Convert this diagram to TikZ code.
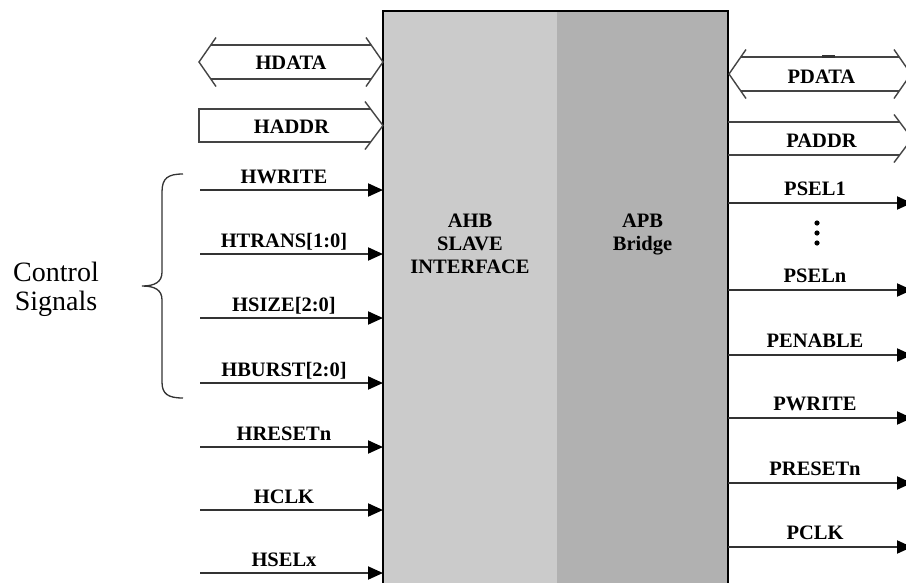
\documentclass[tikz,border=0pt]{standalone}
\usepackage{fontspec}
\setmainfont{Liberation Serif}
\usetikzlibrary{arrows.meta}

\definecolor{ahbgray}{HTML}{CBCBCB}
\definecolor{apbgray}{HTML}{B1B1B1}
\definecolor{wire}{HTML}{333333}
\definecolor{buswire}{HTML}{444444}

\tikzset{
  blk/.style={inner sep=0pt, outer sep=0pt, draw=none},
  sig/.style={draw=wire, line width=2pt,
    -{Triangle[length=15pt, width=13pt, color=black]}},
  bus/.style={draw=buswire, line width=1.4pt, line join=miter},
  lab/.style={font=\bfseries\fontsize{20.5}{23}\selectfont, inner sep=0pt, anchor=base},
  boxtxt/.style={font=\bfseries\fontsize{20.5}{23}\selectfont, inner sep=0pt,
    anchor=north, align=center},
  brace/.style={draw=wire, line width=1.3pt},
}

\begin{document}
\begin{tikzpicture}[x=1pt, y=-1pt]
\path[use as bounding box, clip] (0,0) rectangle (906,582);
\fill[white] (0,0) rectangle (906,582);

% bridge block: AHB slave interface and APB bridge halves
\node[blk, fill=ahbgray, minimum width=174pt, minimum height=590pt] (ahb) at (470,306) {};
\node[blk, fill=apbgray, minimum width=171pt, minimum height=590pt] (apb) at (642.5,306) {};
\draw[line width=2pt, line join=miter]
  (ahb.south west) -- (ahb.north west) -- (apb.north east) -- (apb.south east);

\node[boxtxt] (ahbtxt) at (470,213.5) {AHB\\SLAVE\\INTERFACE};
\node[boxtxt] (apbtxt) at (642.5,213.5) {APB\\Bridge};

% AHB buses
\draw[bus] (216,37.5) -- (199,62) -- (216,86.5);
\draw[bus] (366,37.5) -- (383,62) -- (366,86.5);
\draw[bus] (210.8,45) -- (371.2,45);
\draw[bus] (210.8,79) -- (371.2,79);
\node[lab] (hdata) at (291,69) {HDATA};

\draw[bus] (370.6,109) -- (199,109) -- (199,142) -- (370.6,142);
\draw[bus] (365,101.5) -- (383,125.5) -- (365,149.5);
\node[lab] (haddr) at (291.5,133) {HADDR};

% APB buses
\draw[bus] (746,49.5) -- (729,74) -- (746,98.5);
\draw[bus] (894,49.5) -- (911,74) -- (894,98.5);
\draw[bus] (740.8,57) -- (899.2,57);
\draw[bus] (740.8,91) -- (899.2,91);
\draw[wire, line width=2.2pt] (822,56.5) -- (835,56.5);
\node[lab] (pdata) at (821.5,83) {PDATA};

\draw[bus] (728,122) -- (899.6,122);
\draw[bus] (728,155) -- (899.6,155);
\draw[bus] (894,114.5) -- (912,138.5) -- (894,162.5);
\node[lab] (paddr) at (821.5,147) {PADDR};

% AHB input signals
\foreach \id/\txt/\y in {hwrite/HWRITE/190, htrans/{HTRANS[1:0]}/254,
    hsize/{HSIZE[2:0]}/318, hburst/{HBURST[2:0]}/383, hresetn/HRESETn/447,
    hclk/HCLK/510, hselx/HSELx/573}{
  \coordinate (\id-in) at (200,\y);
  \node[lab] (\id) at (284,\y-7) {\txt};
  \draw[sig] (\id-in) -- (\id-in -| ahb.west);
}

% APB output signals
\foreach \id/\txt/\y in {psel1/PSEL1/203, pseln/PSELn/290, penable/PENABLE/355,
    pwrite/PWRITE/418, presetn/PRESETn/483, pclk/PCLK/547}{
  \coordinate (\id-out) at (912,\y);
  \node[lab] (\id) at (815,\y-8) {\txt};
  \draw[sig] (\id-out -| apb.east) -- (\id-out);
}

% vertical ellipsis between the select lines
\foreach \y in {223,233,243}
  \fill[black] (817,\y) circle (2.6pt);

% brace grouping the control signals
\draw[brace] (183,174) .. controls (168,174) and (162,178) .. (162,192)
  -- (162,272) .. controls (162,282) and (155,286) .. (142,286)
  .. controls (155,286) and (162,290) .. (162,300)
  -- (162,382) .. controls (162,394) and (168,398) .. (183,398);

\node[font=\fontsize{28}{29}\selectfont, inner sep=0pt, anchor=north, align=center]
  (ctrl) at (56,262) {Control\\Signals};
\end{tikzpicture}
\end{document}
